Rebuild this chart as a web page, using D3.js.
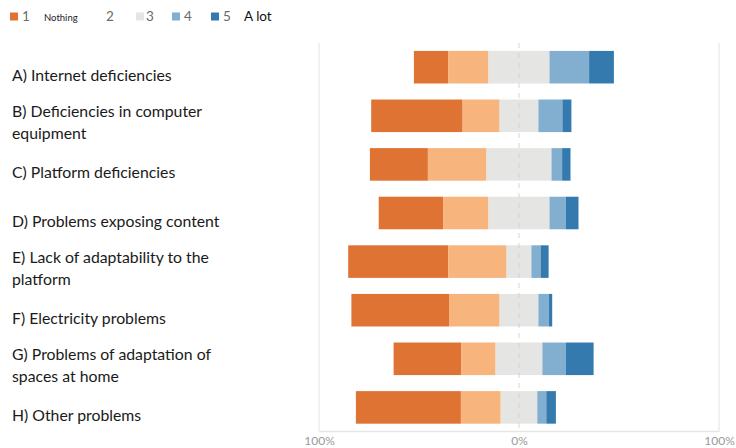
<!DOCTYPE html>
<html>
<head>
<meta charset="utf-8">
<script src="https://cdn.jsdelivr.net/npm/d3@7"></script>
<style>
  html, body { margin: 0; padding: 0; background: #fff; }
  svg { display: block; }
</style>
</head>
<body>
<svg id="chart" width="736" height="448"></svg>
<script>
// ---- data ----
const categories = [
  "A) Internet deficiencies",
  "B) Deficiencies in computer\nequipment",
  "C) Platform deficiencies",
  "D) Problems exposing content",
  "E) Lack of adaptability to the\nplatform",
  "F) Electricity problems",
  "G) Problems of adaptation of\nspaces at home",
  "H) Other problems"
];
const levels = ["1", "2", "3", "4", "5"];
const level1 = [17.1, 45.7, 29.0, 32.2, 50.0, 48.8, 33.9, 52.5];
const level2 = [20.2, 18.5, 29.3, 22.7, 29.2, 25.3, 17.1, 19.9];
const level3 = [30.5, 19.4, 32.5, 30.5, 12.4, 19.4, 23.4, 18.3];
const level4 = [19.8, 12.0,  5.3,  8.2,  4.6,  5.2, 11.8,  4.5];
const level5 = [12.4,  4.5,  4.2,  6.3,  4.0,  1.7, 13.8,  4.8];
const tickValues = [-100, 0, 100];
const tickLabels = ["100%", "0%", "100%"];
const legendLabels = ["1", "2", "3", "4", "5"];
const colors = ["#df7334", "#f7b47c", "#e5e5e4", "#82aed0", "#347aae"];

// ---- build table ----
const series = [level1, level2, level3, level4, level5];
const rows = categories.map((c, i) => {
  const v = series.map(s => s[i]);
  let start = -(v[0] + v[1] + v[2] / 2);
  const segs = v.map((val, k) => {
    const seg = { k, x0: start, x1: start + val };
    start += val;
    return seg;
  });
  return { cat: c, segs };
});

const svg = d3.select("#chart");
const font = "Lato, 'Open Sans', sans-serif";

const x = d3.scaleLinear().domain([-100, 100]).range([319, 719]);
const y = d3.scaleBand().domain(categories).range([42.9, 431.7])
  .paddingInner(0.33).paddingOuter(0.165);

// gridlines
const gTop = 43, gBottom = 431;
svg.append("g").selectAll("line").data([-100, 100]).join("line")
  .attr("x1", d => x(d)).attr("x2", d => x(d))
  .attr("y1", gTop).attr("y2", gBottom)
  .attr("stroke", "#ececec").attr("stroke-width", 1.5);

// bars
const gBars = svg.append("g");
rows.forEach(r => {
  gBars.selectAll(null).data(r.segs).join("rect")
    .attr("x", d => x(d.x0))
    .attr("width", d => x(d.x1) - x(d.x0))
    .attr("y", y(r.cat))
    .attr("height", y.bandwidth())
    .attr("fill", d => colors[d.k]);
});

// zero dashed line (on top, faint)
svg.append("line")
  .attr("x1", x(0)).attr("x2", x(0))
  .attr("y1", gTop).attr("y2", gBottom)
  .attr("stroke", "#d4d4d4").attr("stroke-width", 1.2)
  .attr("stroke-dasharray", "5,5")
  .attr("opacity", 0.8);

// bottom axis
const axis = d3.axisBottom(x).tickValues(tickValues)
  .tickFormat((d, i) => tickLabels[i]).tickSize(0).tickPadding(5);
const gAxis = svg.append("g").attr("transform", `translate(0,${gBottom})`).call(axis);
gAxis.select(".domain").attr("stroke", "#e6e6e6").attr("stroke-width", 1.5);
gAxis.selectAll("text").attr("fill", "#9a9a9a").attr("font-size", 12)
  .attr("font-family", font);

// category labels
const labelSize = 15.8;
const gLab = svg.append("g").attr("font-family", font).attr("font-size", labelSize)
  .attr("fill", "#1a1a1a");
categories.forEach(c => {
  const lines = c.split("\n");
  const cy = y(c) + y.bandwidth() / 2;
  const t = gLab.append("text").attr("x", 12);
  if (lines.length === 1) {
    t.append("tspan").attr("x", 12).attr("y", cy + 13.5).text(lines[0]);
  } else {
    lines.forEach((ln, j) => {
      t.append("tspan").attr("x", 12).attr("y", cy + 1.5 + j * 22).text(ln);
    });
  }
});

// legend
const gLeg = svg.append("g").attr("font-family", font);
const legPos = [
  { sq: 10, tx: 22, showSq: true },
  { sq: 95, tx: 106, showSq: false },
  { sq: 136, tx: 146, showSq: true },
  { sq: 172, tx: 184, showSq: true },
  { sq: 211, tx: 223, showSq: true }
];
legendLabels.forEach((lab, i) => {
  const p = legPos[i];
  if (p.showSq) {
    gLeg.append("rect").attr("x", p.sq).attr("y", 12.5).attr("width", 8).attr("height", 8)
      .attr("fill", colors[i]);
  }
  gLeg.append("text").attr("x", p.tx).attr("y", 21).attr("font-size", 13.5)
    .attr("fill", "#6b6b6b").text(lab);
});
gLeg.append("text").attr("x", 44).attr("y", 20.5).attr("font-size", 9.5)
  .attr("fill", "#222").text("Nothing");
gLeg.append("text").attr("x", 244).attr("y", 21).attr("font-size", 13.5)
  .attr("fill", "#111").text("A lot");
</script>
</body>
</html>
